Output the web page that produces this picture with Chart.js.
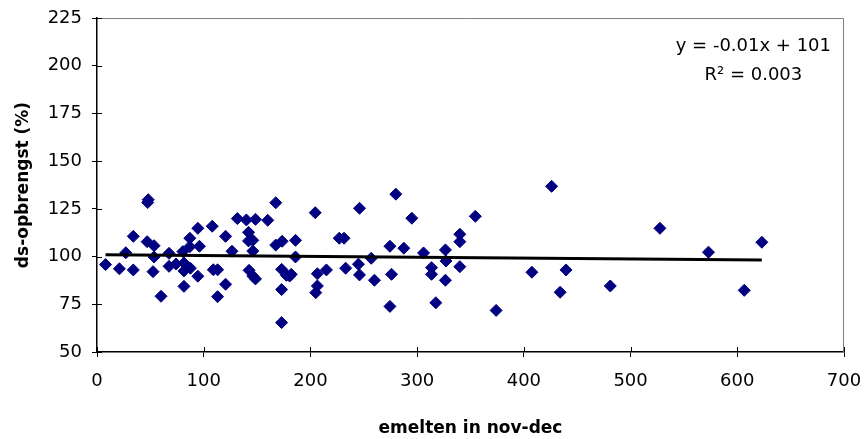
<!DOCTYPE html>
<html>
<head>
<meta charset="utf-8">
<script src="https://cdn.jsdelivr.net/npm/chart.js@4.4.1/dist/chart.umd.min.js"></script>
<style>
  html, body { margin: 0; padding: 0; background: #fff; }
  #wrap { width: 864px; height: 439px; }
</style>
</head>
<body>
<div id="wrap"><canvas id="scatter" width="864" height="439"></canvas></div>
<script>
// values
const emelten = [8, 21, 27, 34, 34, 47.5, 48, 47, 53.5, 53.5, 52.5, 60, 67.5, 67.5, 74, 80.5, 81.5, 81.5, 81.5,
  87, 87, 87.5, 94.5, 96, 94.5, 108, 109, 113, 113, 120.5, 120.5, 126.5, 131.5, 140, 142, 142, 146, 142.5, 146,
  148.5, 148.5, 146, 160, 167.5, 167.5, 173.5, 173, 177.5, 173, 173, 180.5, 186, 186, 182, 204.5, 206.5, 206.5,
  205, 215, 227, 231.5, 233, 246, 245, 246, 257, 260, 274.5, 276, 274.5, 280, 287.5, 295, 306, 313.5, 313.5,
  317.5, 326.5, 327, 326.5, 340, 340, 340, 354.5, 374, 407.5, 426, 434, 439.5, 481, 527.5, 573, 606.5, 623];
const opbrengst = [95.8, 93.6, 102, 93, 110.6, 128.3, 129.8, 107.8, 105.7, 99.8, 92.1, 79.2, 101.7, 94.9, 96.1,
  102.6, 96.6, 92.5, 84.4, 109.6, 105.2, 93.9, 114.8, 105.4, 89.7, 115.9, 93.1, 93.1, 79, 110.6, 85.5, 102.8,
  119.9, 119.2, 112.7, 108.2, 108.5, 92.8, 89.8, 88.3, 119.5, 102.9, 119, 128.2, 106, 108, 93.3, 90.2, 82.7,
  65.4, 89.8, 108.5, 99.8, 90.7, 123, 91, 84.6, 81.1, 93, 109.6, 109.6, 93.9, 125.3, 96, 90.4, 99.1, 87.6,
  105.4, 90.7, 73.9, 132.7, 104.4, 120.1, 101.9, 94.2, 90.7, 75.8, 103.5, 97.7, 87.6, 111.7, 107.8, 94.7,
  121.1, 71.8, 91.8, 136.8, 81.3, 93, 84.6, 114.8, 102.3, 82.3, 107.5];
// trendline end points as drawn in the picture
const trendX = [8, 623];
const trendY = [100.9, 98.2];
const xTicks = [0, 100, 200, 300, 400, 500, 600, 700];
const yTicks = [50, 75, 100, 125, 150, 175, 200, 225];
const eqLines = ['y = -0.01x + 101', 'R\u00B2 = 0.003'];

const FONT = '"DejaVu Sans", Verdana, sans-serif';

const points = emelten.map((x, i) => ({ x: x, y: opbrengst[i] }));
const trend = trendX.map((x, i) => ({ x: x, y: trendY[i] }));

// frame, inner tick halves and regression label
const framePlugin = {
  id: 'frame',
  beforeDatasetsDraw(chart) {
    const c = chart.ctx, a = chart.chartArea;
    c.save();
    c.strokeStyle = '#808080';
    c.lineWidth = 1;
    c.beginPath();
    c.moveTo(a.left, a.top + 0.5);
    c.lineTo(a.right - 0.5, a.top + 0.5);
    c.lineTo(a.right - 0.5, a.bottom);
    c.stroke();
    // inward tick marks
    c.strokeStyle = '#000';
    c.lineWidth = 1;
    const xs = chart.scales.x, ys = chart.scales.y;
    xTicks.forEach(v => {
      const px = Math.round(xs.getPixelForValue(v)) + 0.5;
      c.beginPath(); c.moveTo(px, a.bottom); c.lineTo(px, a.bottom - 5); c.stroke();
    });
    yTicks.forEach(v => {
      const py = Math.round(ys.getPixelForValue(v)) + 0.5;
      c.beginPath(); c.moveTo(a.left, py); c.lineTo(a.left + 5, py); c.stroke();
    });
    c.restore();
  },
  afterDraw(chart) {
    const c = chart.ctx, a = chart.chartArea;
    c.save();
    c.fillStyle = '#000';
    c.font = '18px ' + FONT;
    c.textBaseline = 'middle';
    c.textAlign = 'right';
    c.fillText(eqLines[0], a.right - 13, a.top + 28);
    // R² line, centred under the first
    c.textAlign = 'center';
    const w0 = c.measureText(eqLines[0]).width;
    c.fillText(eqLines[1], a.right - 13 - w0 / 2, a.top + 57);
    c.restore();
  }
};

new Chart(document.getElementById('scatter'), {
  type: 'scatter',
  data: {
    datasets: [{
      label: 'ds-opbrengst',
      data: points,
      pointStyle: 'rectRot',
      pointRadius: 6,
      pointBackgroundColor: '#000080',
      pointBorderColor: '#000080',
      pointBorderWidth: 1,
      order: 2
    }, {
      label: 'trend',
      type: 'line',
      data: trend,
      borderColor: '#000',
      borderWidth: 3,
      pointRadius: 0,
      fill: false,
      order: 1
    }]
  },
  options: {
    responsive: false,
    animation: false,
    devicePixelRatio: 1,
    layout: { padding: { left: 0, right: 20, top: 18, bottom: 0 } },
    plugins: {
      legend: { display: false },
      tooltip: { enabled: false }
    },
    scales: {
      x: {
        type: 'linear',
        min: 0, max: 700,
        afterBuildTicks: s => { s.ticks = xTicks.map(v => ({ value: v })); },
        afterFit: s => { s.height = 87; s.paddingLeft = 0; s.paddingRight = 0; },
        ticks: { font: { size: 18, family: FONT }, color: '#000', padding: 14 },
        grid: { drawOnChartArea: false, tickLength: 5, color: '#000' },
        border: { color: '#000', width: 1.5 },
        title: {
          display: true,
          text: 'emelten in nov-dec',
          font: { size: 17, weight: 'bold', family: FONT },
          color: '#000',
          padding: { top: 0, bottom: 0 }
        }
      },
      y: {
        type: 'linear',
        min: 50, max: 225,
        afterBuildTicks: s => { s.ticks = yTicks.map(v => ({ value: v })); },
        afterFit: s => { s.width = 97; s.paddingTop = 0; s.paddingBottom = 0; },
        ticks: { font: { size: 18, family: FONT }, color: '#000', padding: 10 },
        grid: { drawOnChartArea: false, tickLength: 5, color: '#000' },
        border: { color: '#000', width: 1.5 },
        title: {
          display: true,
          text: 'ds-opbrengst (%)',
          font: { size: 17, weight: 'bold', family: FONT },
          color: '#000',
          padding: { top: 13, bottom: 0 }
        }
      }
    }
  },
  plugins: [framePlugin]
});
</script>
</body>
</html>
